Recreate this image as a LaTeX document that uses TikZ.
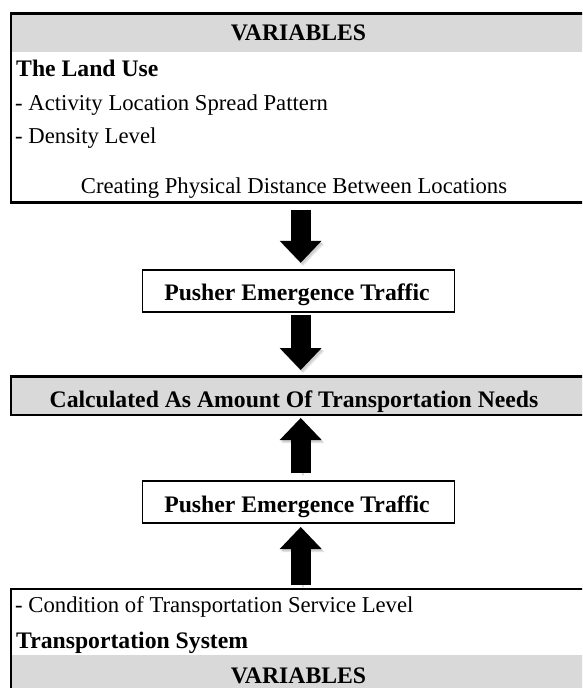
\documentclass[tikz,border=0pt]{standalone}
\usepackage{fontspec}
\setmainfont{Liberation Serif}
\usetikzlibrary{arrows.meta,calc}
\definecolor{hdrgray}{HTML}{D9D9D9}
\begin{document}
\begin{tikzpicture}[x=1pt,y=-1pt,
  bigbox/.style={draw=black, line width=2.7pt, inner sep=0pt, outer sep=0pt, minimum width=575pt},
  band/.style={fill=hdrgray, inner sep=0pt, outer sep=0pt, minimum width=575pt},
  midbox/.style={draw=black, line width=1.8pt, fill=white, inner sep=0pt, outer sep=0pt, minimum width=312pt, minimum height=41.5pt},
  nt/.style={font=\fontsize{22.7}{27}\selectfont, inner sep=0pt},
  bt/.style={font=\bfseries\fontsize{23.7}{28}\selectfont, inner sep=0pt},
  blockarrow/.style={line width=20pt, draw=black,
    -{Triangle[width=42pt,length=22pt,line width=0pt]},
    preaction={draw=black!10, transform canvas={shift={(2.5pt,-3pt)}}},
    preaction={draw=black!18, transform canvas={shift={(1.5pt,-2pt)}}}}
]
\clip (0,0) rectangle (582,688);
\fill[white] (0,0) rectangle (582,688);

% top box
\node[band, minimum height=38.7pt] (tophdr) at (298.5,32.65) {};
\node[bigbox, minimum height=189.2pt] (topbox) at (298.5,107.9) {};
\node[bt, anchor=base] (tv) at (298.5,40) {VARIABLES};
\node[bt, anchor=base west] (tland) at (16,76) {The Land Use};
\node[nt, anchor=base west] (tact) at (15,110) {- Activity Location Spread Pattern};
\node[nt, anchor=base west] (tden) at (15,143) {- Density Level};
\node[nt, anchor=base] (tcre) at (294,193) {Creating Physical Distance Between Locations};

% pusher 1
\node[midbox] (p1) at (298.5,291) {};
\node[bt, anchor=base] (p1t) at (297,300) {Pusher Emergence Traffic};

% calculated box
\node[bigbox, fill=hdrgray, minimum height=38.5pt] (calc) at (298.5,395.75) {};
\node[bt, anchor=base] (calct) at (294,407) {Calculated As Amount Of Transportation Needs};

% pusher 2
\node[midbox] (p2) at (298.5,502) {};
\node[bt, anchor=base] (p2t) at (297,512) {Pusher Emergence Traffic};

% bottom box
\node[band, minimum height=45pt] (bothdr) at (298.5,677.5) {};
\node[bigbox, minimum height=111pt] (bot) at (298.5,644.5) {};
\node[nt, anchor=base west] (tcond) at (15,612) {- Condition of Transportation Service Level};
\node[bt, anchor=base west] (tts) at (16,648) {Transportation System};
\node[bt, anchor=base] (bv) at (298.5,683) {VARIABLES};

% arrows
\draw[blockarrow] ($(topbox.south)+(2.2,7.5)$) -- ($(p1.north)+(2.2,-7.5)$);
\draw[blockarrow] ($(p1.south)+(2.2,3.5)$) -- ($(calc.north)+(2.2,-6.5)$);
\draw[blockarrow] ($(p2.north)+(2.2,-8)$) -- ($(calc.south)+(2.2,3)$);
\draw[blockarrow] ($(bot.north)+(2.2,-4)$) -- ($(p2.south)+(2.2,4.25)$);
\end{tikzpicture}
\end{document}
